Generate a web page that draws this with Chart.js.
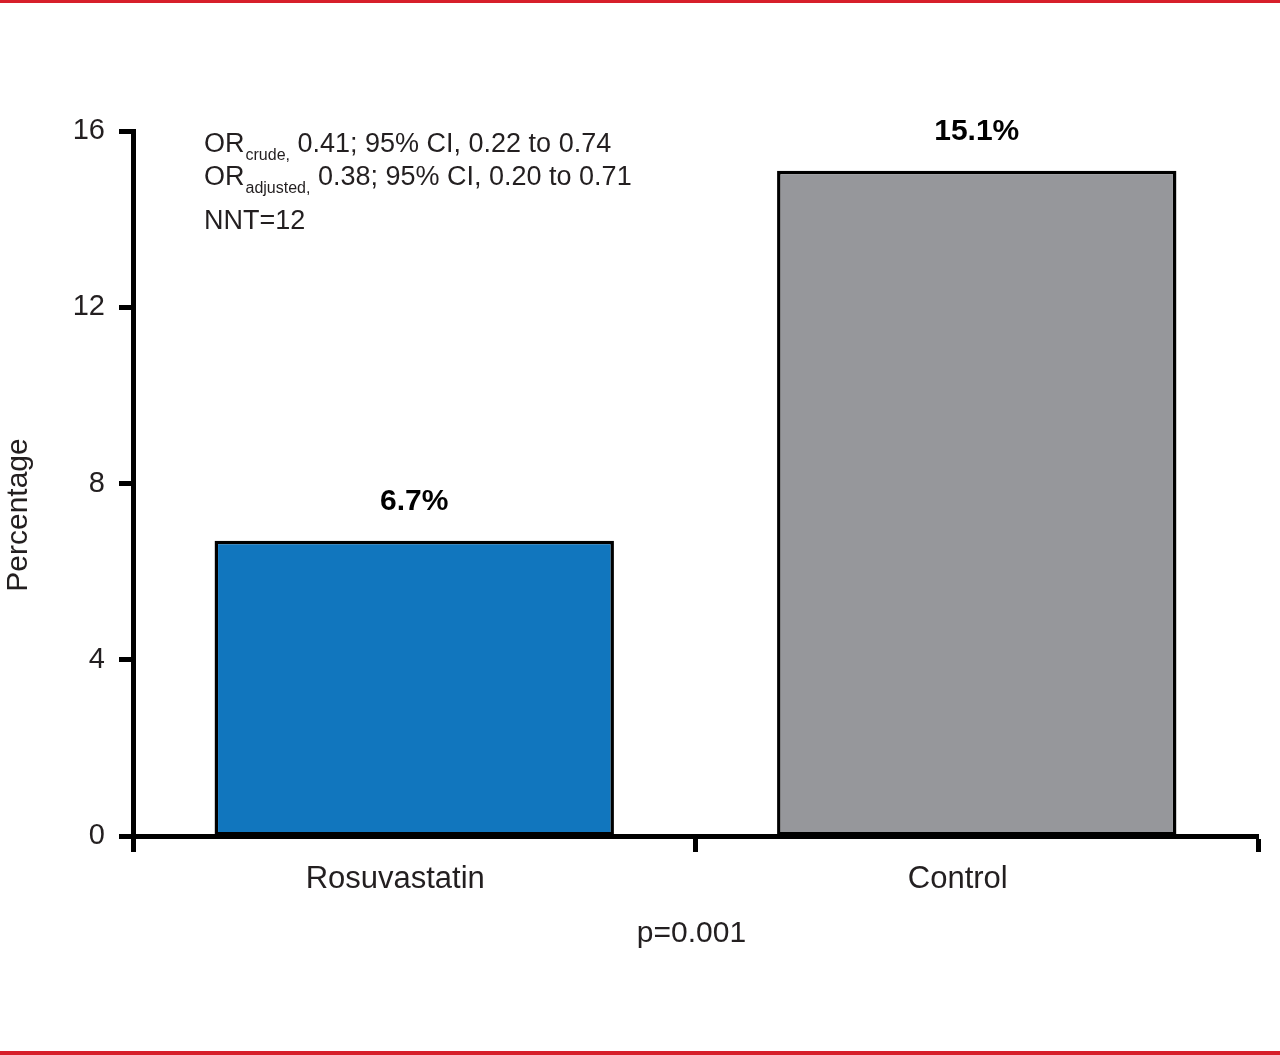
<!DOCTYPE html>
<html>
<head>
<meta charset="utf-8">
<script src="https://cdn.jsdelivr.net/npm/chart.js@4.4.1/dist/chart.umd.min.js"></script>
<style>
  html, body { margin: 0; padding: 0; background: #fff; }
  #wrap { position: relative; width: 1280px; height: 1055px; overflow: hidden; }
  #topline { position: absolute; left: 0; top: 0; width: 1280px; height: 3px; background: #d71f2a; }
  #botline { position: absolute; left: 0; top: 1051px; width: 1280px; height: 4px; background: #d71f2a; }
  canvas { position: absolute; left: 0; top: 0; }
</style>
</head>
<body>
<div id="wrap">
  <canvas id="c" width="1280" height="1055"></canvas>
  <div id="topline"></div>
  <div id="botline"></div>
</div>
<script>
const categories = ['Rosuvastatin', 'Control'];
const values = [6.7, 15.1];
const valueLabels = ['6.7%', '15.1%'];
const barColors = ['#1176be', '#96979b'];
const yTicks = [0, 4, 8, 12, 16];
const yTitle = 'Percentage';
const pValueText = 'p=0.001';
const noteLines = [
  { main: 'OR', sub: 'crude,', rest: ' 0.41; 95% CI, 0.22 to 0.74' },
  { main: 'OR', sub: 'adjusted,', rest: ' 0.38; 95% CI, 0.20 to 0.71' },
  { main: 'NNT=12', sub: '', rest: '' }
];

const FONT = '"Liberation Sans", Arial, sans-serif';

const annotPlugin = {
  id: 'annot',
  afterDraw(chart) {
    const ctx = chart.ctx;
    const meta = chart.getDatasetMeta(0);
    const area = chart.chartArea;
    ctx.save();
    ctx.fillStyle = '#000';
    // value labels
    ctx.font = 'bold 30px ' + FONT;
    ctx.textAlign = 'center';
    ctx.textBaseline = 'alphabetic';
    meta.data.forEach((bar, i) => {
      ctx.fillText(valueLabels[i], bar.x, bar.y - 31);
    });
    // notes
    ctx.fillStyle = '#231f20';
    ctx.textAlign = 'left';
    const baselines = [152, 185, 229];
    noteLines.forEach((ln, i) => {
      let x = 204;
      const y = baselines[i];
      ctx.font = '27px ' + FONT;
      ctx.fillText(ln.main, x, y);
      x += ctx.measureText(ln.main).width;
      if (ln.sub) {
        ctx.font = '16px ' + FONT;
        ctx.fillText(ln.sub, x + 1, y + 8);
        x += ctx.measureText(ln.sub).width + 1;
      }
      if (ln.rest) {
        ctx.font = '27px ' + FONT;
        ctx.fillText(ln.rest, x, y);
      }
    });
    // p value
    ctx.font = '30px ' + FONT;
    ctx.textAlign = 'center';
    ctx.textBaseline = 'alphabetic';
    ctx.fillText(pValueText, (area.left + area.right) / 2 - 4, 942);
    // y title
    ctx.font = '30px ' + FONT;
    ctx.textAlign = 'center';
    ctx.textBaseline = 'middle';
    ctx.translate(19, 515);
    ctx.rotate(-Math.PI / 2);
    ctx.fillText(yTitle, 0, 0);
    ctx.restore();
  }
};

new Chart(document.getElementById('c'), {
  type: 'bar',
  data: {
    labels: categories,
    datasets: [{
      data: values,
      backgroundColor: barColors,
      borderColor: '#000',
      borderWidth: 3.5,
      borderSkipped: false,
      barPercentage: 0.71,
      categoryPercentage: 1.0
    }]
  },
  options: {
    responsive: false,
    animation: false,
    devicePixelRatio: 1,
    layout: { padding: { left: 0, right: 22, top: 131, bottom: 0 } },
    plugins: { legend: { display: false }, tooltip: { enabled: false } },
    scales: {
      x: {
        offset: true,
        grid: { display: true, offset: true, drawOnChartArea: false, drawTicks: true, tickLength: 16, tickWidth: 5, tickColor: '#000' },
        border: { display: true, width: 5, color: '#000' },
        ticks: { color: '#231f20', font: { family: FONT, size: 31 }, padding: 9, labelOffset: -19 },
        afterFit(scale) { scale.height = 219; }
      },
      y: {
        min: 0,
        max: 16,
        afterBuildTicks(scale) { scale.ticks = yTicks.map(v => ({ value: v })); },
        grid: { display: true, drawOnChartArea: false, drawTicks: true, tickLength: 14, tickWidth: 5, tickColor: '#000' },
        border: { display: true, width: 5, color: '#000' },
        ticks: { color: '#231f20', font: { family: FONT, size: 29 }, padding: 14 },
        afterFit(scale) { scale.width = 133; }
      }
    }
  },
  plugins: [annotPlugin]
});
</script>
</body>
</html>
